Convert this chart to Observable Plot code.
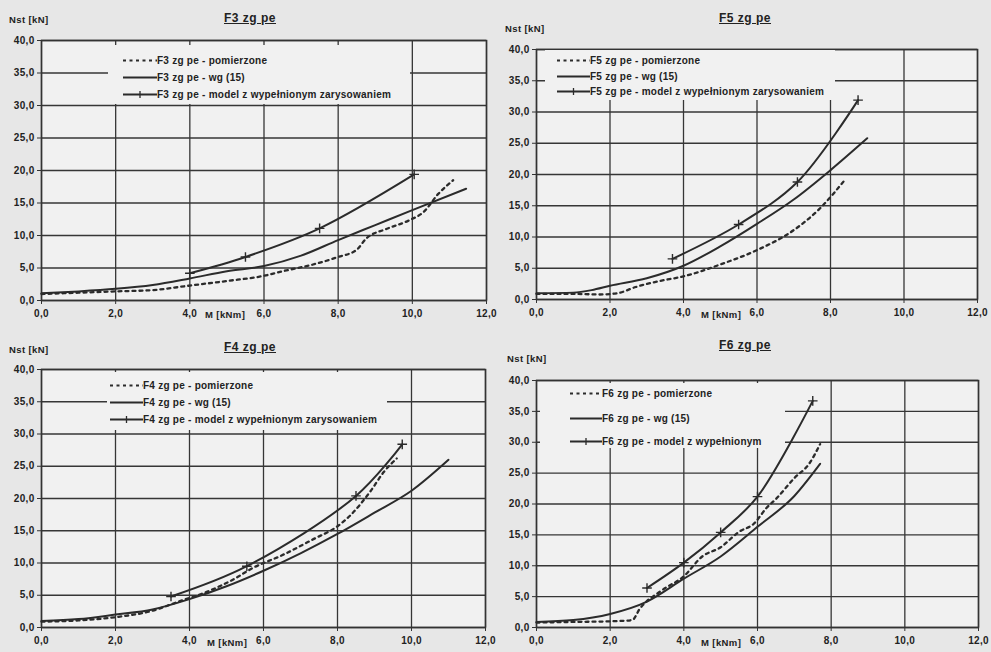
<!DOCTYPE html>
<html><head><meta charset="utf-8">
<script src="https://cdn.jsdelivr.net/npm/d3@7"></script>
<script src="https://cdn.jsdelivr.net/npm/@observablehq/plot@0.6"></script>
<style>
html,body{margin:0;padding:0;background:#e7e7e7;}
#page{position:relative;width:991px;height:652px;overflow:hidden;background:#e7e7e7;font-family:"Liberation Sans",Arial,sans-serif;color:#222;}
.panel{position:absolute;}
.lbl{position:absolute;font-weight:bold;white-space:nowrap;line-height:1;color:#222;}
.title{font-size:12px;letter-spacing:0.5px;text-decoration:underline;transform:translate(-50%,-50%);}
.ylab,.xlab{font-size:9.5px;letter-spacing:0.4px;transform:translateY(-50%);}
.legend{position:absolute;background:#f1f1f1;}
.legrow{position:absolute;display:flex;align-items:center;font-size:10px;letter-spacing:0.25px;font-weight:bold;white-space:nowrap;transform:translateY(-50%);color:#222;}
.legrow svg{display:block;}
</style></head>
<body><div id="page"></div>
<script>
// ---- axis ticks ----
const xTicks = [0, 2, 4, 6, 8, 10, 12];
const yTicks = [0, 5, 10, 15, 20, 25, 30, 35, 40];

// ---- series [M kNm, Nst kN] ----
const f3Measured = [[0,1.0],[1,1.2],[2,1.4],[3,1.6],[4,2.3],[5,3.0],[6,3.8],[6.5,4.5],[7.3,5.5],[8.0,6.7],[8.5,7.8],[8.75,9.5],[9.3,11.0],[9.9,12.3],[10.3,13.6],[10.7,16.4],[11.1,18.5]];
const f3Wg = [[0,1.1],[1,1.4],[2,1.8],[3,2.4],[4,3.4],[5,4.5],[6,5.3],[7,6.9],[8,9.3],[9,11.6],[10,13.9],[11.45,17.2]];
const f3Model = [[4.0,4.2],[5.5,6.7],[7.5,11.1],[10.05,19.4]];

const f5Measured = [[0,0.9],[1,0.9],[1.7,0.8],[2.2,1.0],[2.7,2.0],[3.3,2.9],[4,3.7],[5,5.6],[6,7.9],[7,11.1],[7.7,14.5],[8.4,19.2]];
const f5Wg = [[0,1.0],[1,1.1],[1.5,1.5],[2,2.2],[3,3.4],[4,5.4],[5,8.5],[6,12.1],[7,16.0],[8,20.7],[9,25.8]];
const f5Model = [[3.7,6.5],[5.5,12.0],[7.1,18.8],[8.75,31.9]];

const f4Measured = [[0,0.9],[1,1.1],[2,1.6],[3,2.6],[3.7,4.0],[4.5,5.6],[5.2,7.5],[5.7,9.2],[6.5,11.2],[7.35,13.7],[8,15.7],[8.35,17.4],[8.9,21.2],[9.25,24.1],[9.6,26.2]];
const f4Wg = [[0,1.0],[1,1.3],[2,2.0],[3,2.8],[4,4.4],[5,6.4],[6,8.8],[7,11.5],[8,14.5],[9,17.8],[10,21.2],[11,26.0]];
const f4Model = [[3.5,4.8],[5.55,9.5],[8.5,20.4],[9.75,28.4]];

const f6Measured = [[0,0.8],[1,0.9],[2,1.0],[2.6,1.2],[2.8,3.0],[3.4,6.0],[4.0,8.3],[4.5,11.5],[5.0,13.0],[5.5,15.5],[5.9,16.8],[6.25,19.4],[6.5,20.8],[7.0,24.2],[7.4,26.5],[7.7,29.7]];
const f6Wg = [[0,0.9],[1,1.2],[2,2.2],[3,4.2],[4,7.9],[5,11.5],[6,16.3],[7,21.3],[7.7,26.5]];
const f6Model = [[3.0,6.4],[4.0,10.5],[5.0,15.4],[6.0,21.2],[7.5,36.7]];

// ---- texts ----
const titles = ["F3 zg pe", "F5 zg pe", "F4 zg pe", "F6 zg pe"];
const yLabel = "Nst [kN]";
const xLabel = "M [kNm]";
const legendSuffix = ["- pomierzone", "- wg (15)", "- model z wypełnionym zarysowaniem"];
const legendSuffixShort = ["- pomierzone", "-  wg (15)", "- model z wypełnionym"];

// ---- layout (page pixels) ----
const panels = [
  {i:0, data:[f3Measured,f3Wg,f3Model], left:0, top:0, w:505, h:325, m:[40,19,25,41], title:[250,18], ylab:[9,20], xlab:[205,315], box:[108,45,410,104], rows:[60,77,94], sw:[123,157], leg:legendSuffix},
  {i:1, data:[f5Measured,f5Wg,f5Model], left:495, top:0, w:496, h:325, m:[49,14,26,41], title:[745,18], ylab:[505,29], xlab:[701,315], box:[545,50,835,100], rows:[60,76,91], sw:[557,590], leg:legendSuffix},
  {i:2, data:[f4Measured,f4Wg,f4Model], left:0, top:325, w:505, h:327, m:[44,20,25,41], title:[250,347], ylab:[9,350], xlab:[207,643], box:[107,372,387,430], rows:[385,402,419], sw:[110,143], leg:legendSuffix},
  {i:3, data:[f6Measured,f6Wg,f6Model], left:495, top:325, w:496, h:327, m:[55,13,25,41], title:[745,345], ylab:[507,359], xlab:[701,643], box:[540,383,785,448], rows:[393,418,441], sw:[570,602], leg:legendSuffixShort}
];

const fmt = d => d.toFixed(1).replace(".", ",");
const ink = "#2b2b2b";
const page = document.getElementById("page");
const toObj = arr => arr.map(([x, y]) => ({x, y}));

for (const p of panels) {
  const [meas, wg, model] = p.data.map(toObj);
  const chart = Plot.plot({
    width: p.w, height: p.h,
    marginTop: p.m[0], marginRight: p.m[1], marginBottom: p.m[2], marginLeft: p.m[3],
    style: {background: "transparent", fontFamily: "'Liberation Sans', Arial, sans-serif", fontSize: "10px", fontWeight: "bold", letterSpacing: "0.3px", color: "#222"},
    x: {domain: [0, 12]},
    y: {domain: [0, 40]},
    marks: [
      Plot.frame({fill: "#f1f1f1", stroke: null}),
      Plot.gridX(xTicks, {stroke: "#363636", strokeOpacity: 1, strokeWidth: 1.3}),
      Plot.gridY(yTicks, {stroke: "#363636", strokeOpacity: 1, strokeWidth: 1.3}),
      Plot.frame({stroke: "#333", strokeWidth: 1.5}),
      Plot.axisX({ticks: xTicks, tickFormat: fmt, tickSize: 4, tickPadding: 5, label: null, stroke: "#333"}),
      Plot.axisY({ticks: yTicks, tickFormat: fmt, tickSize: 4, tickPadding: 3, label: null, stroke: "#333"}),
      Plot.line(meas, {x: "x", y: "y", stroke: ink, strokeWidth: 2.3, strokeDasharray: "3,4", curve: "monotone-x"}),
      Plot.line(wg, {x: "x", y: "y", stroke: ink, strokeWidth: 2, curve: "monotone-x"}),
      Plot.line(model, {x: "x", y: "y", stroke: ink, strokeWidth: 2, curve: "catmull-rom"}),
      Plot.dot(model, {x: "x", y: "y", symbol: "plus", r: 3.2, stroke: ink, strokeWidth: 1.4})
    ]
  });
  const wrap = document.createElement("div");
  wrap.className = "panel";
  wrap.style.left = p.left + "px";
  wrap.style.top = p.top + "px";
  wrap.appendChild(chart);
  page.appendChild(wrap);

  const addLabel = (cls, text, x, y) => {
    const d = document.createElement("div");
    d.className = "lbl " + cls;
    d.textContent = text;
    d.style.left = x + "px";
    d.style.top = y + "px";
    page.appendChild(d);
    return d;
  };
  addLabel("title", titles[p.i], p.title[0], p.title[1]);
  addLabel("ylab", yLabel, p.ylab[0], p.ylab[1]);
  addLabel("xlab", xLabel, p.xlab[0], p.xlab[1]);

  // legend box
  const box = document.createElement("div");
  box.className = "legend";
  box.style.left = p.box[0] + "px";
  box.style.top = p.box[1] + "px";
  box.style.width = (p.box[2] - p.box[0]) + "px";
  box.style.height = (p.box[3] - p.box[1]) + "px";
  page.appendChild(box);
  const swW = p.sw[1] - p.sw[0];
  p.rows.forEach((ry, k) => {
    const row = document.createElement("div");
    row.className = "legrow";
    row.style.left = p.sw[0] + "px";
    row.style.top = ry + "px";
    let sw = `<svg width="${swW}" height="10"><line x1="0" y1="5" x2="${swW}" y2="5" stroke="${ink}" stroke-width="${k === 0 ? 2 : 1.8}" ${k === 0 ? 'stroke-dasharray="3,3.5"' : ''}/>`;
    if (k === 2) sw += `<line x1="${swW/2}" y1="1.5" x2="${swW/2}" y2="8.5" stroke="${ink}" stroke-width="1.3"/>`;
    sw += `</svg>`;
    row.innerHTML = sw + `<span>${titles[p.i]} ${p.leg[k]}</span>`;
    page.appendChild(row);
  });
}
</script>
</body></html>
